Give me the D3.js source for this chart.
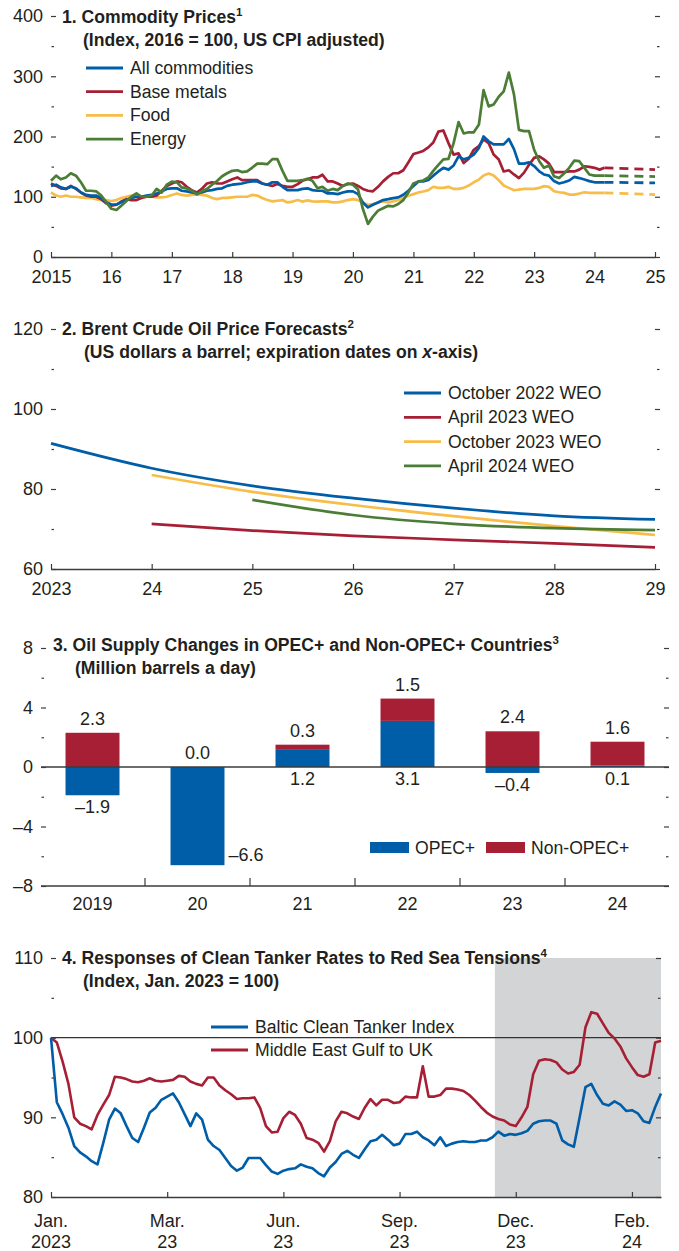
<!DOCTYPE html>
<html>
<head>
<meta charset="utf-8">
<script src="https://d3js.org/d3.v7.min.js"></script>
<style>
  body { margin: 0; background: #fff; }
  svg text { font-family: "Liberation Sans", Arial, sans-serif; fill: #231f20; }
</style>
</head>
<body>
<svg id="chart" width="679" height="1251"></svg>
<script>

// ---- Panel 1: monthly commodity price indices, Jan 2015 onwards ----
const allCommodities = [
  118, 120, 115.5, 113, 116.5, 114, 107, 103, 102, 102,
  98, 91, 87, 87, 91, 94.5, 98, 100, 100, 102,
  103, 105.5, 109, 113, 114, 114, 110, 109, 107, 105.5,
  107, 110, 111, 113, 114, 118, 120, 121, 122, 124,
  125.5, 125.5, 122, 120, 124, 124, 116.5, 111, 111, 111,
  113, 114, 111, 110, 110, 105.5, 105.5, 104.4, 107, 109,
  109, 104.4, 90.6, 82.3, 86.7, 90.6, 94.5, 96, 97.8, 99,
  103.3, 110, 118, 125.5, 125.5, 127.7, 135, 142, 148, 145,
  152, 167, 162, 164.5, 170, 181, 200, 192, 187, 187,
  187, 196, 179, 155, 155, 157, 151, 142, 137, 135,
  126, 122, 124, 127, 133, 131, 128.5, 126, 124, 124, 124
];
const baseMetals = [
  122, 118, 114, 113, 118, 113, 107, 102, 100, 100,
  96, 89, 85, 87, 92, 96, 94.5, 94.5, 98, 100,
  100, 102, 110, 118, 122, 125.5, 124, 116.5, 111, 107,
  113, 122, 124, 122, 122, 125.5, 129, 132, 127.5, 127.5,
  127.5, 127.5, 122, 120, 118, 121, 118, 116.5, 116.5, 121,
  126.5, 129, 132, 132, 136.5, 125.5, 125.5, 122, 118, 121,
  122, 118, 113, 110, 109, 116.5, 125.5, 133, 139, 139,
  144, 157, 171, 173.5, 176, 182, 190, 208, 210, 189,
  170, 172, 156, 163, 178, 184, 195, 189, 170, 162,
  142, 144, 137, 131, 140, 153, 164.5, 167, 162, 155,
  141, 141, 141, 142, 142, 145, 150.6, 149.5, 148, 145, 148
];
const food = [
  107, 102, 100, 102, 100, 100, 99, 98, 98, 96,
  94.5, 94.5, 93, 94.5, 98, 100, 102, 102, 100, 100,
  100, 99, 99, 100, 103, 105.5, 103, 102, 103, 104,
  103, 102, 98, 96, 98, 98, 99, 100, 100, 100,
  103, 102, 97.8, 94.5, 92.3, 93.4, 94.5, 90.6, 92, 94.5,
  92, 94, 92.3, 92, 92.3, 92.3, 90.6, 90.6, 92.3, 94.5,
  96.1, 94.5, 90.6, 86.7, 87.8, 90.6, 92.3, 90.6, 92.3, 94.5,
  97.8, 101.7, 104.4, 107.2, 108.8, 111, 116.6, 114.7, 114.7, 116.4,
  113, 113, 114.7, 118.6, 124, 128.5, 135.2, 138.5, 135.2, 127.4,
  118.6, 114.7, 110.8, 111.9, 113, 113, 113, 114.7, 117.5, 116.4,
  109.2, 107.5, 106.4, 103.6, 103.6, 105.3, 107.5, 106.4, 106.4, 106.4, 106.4
];
const energy = [
  126.5, 135, 129, 132, 139, 135, 124, 110, 110, 109,
  102, 91, 80, 78, 85, 93, 100, 105.5, 100, 100,
  102, 113, 107, 120, 125, 124, 115.5, 114, 110, 104,
  109, 113, 120, 126, 134, 139, 143, 144, 141, 142,
  148, 155, 155, 154, 162.5, 162.5, 143, 126.5, 126.5, 126.5,
  127.5, 130, 126.5, 114, 116.5, 110, 113, 111, 118, 122,
  120, 112, 80, 55, 67, 77, 81, 85, 84, 88,
  94.5, 107, 122, 125.5, 127, 132, 143, 153, 162, 163,
  189, 224, 205, 207, 207, 220, 277, 250, 253, 266,
  275, 306, 270, 211, 209, 209, 178, 159, 148, 152,
  134, 131, 138.5, 148, 160, 159, 148, 137, 135, 135, 135
];
// forecasts: last actual month, then Jan 2025
const forecastMonths = [110, 120];
const allForecast = [124, 123];
const metalsForecast = [148, 145];
const foodForecast = [106.4, 103.6];
const energyForecast = [135, 133.5];
const p1Names = ['All commodities', 'Base metals', 'Food', 'Energy'];

// ---- Panel 2: Brent futures by WEO vintage ----
const forecastYears = [2023, 2024, 2025, 2026, 2027, 2028, 2029];
const oct2022 = [91.4, 85.2, 80.8, 77.7, 75.2, 73.3, 72.4];
const apr2023 = [null, 71.3, 69.6, 68.3, 67.3, 66.4, 65.4];
const oct2023 = [null, 83.5, 79.3, 76.0, 73.2, 70.7, 68.5];
const apr2024 = [null, null, 77.3, 73.5, 71.3, 70.2, 69.7];
const p2Names = ['October 2022 WEO', 'April 2023 WEO', 'October 2023 WEO', 'April 2024 WEO'];

// ---- Panel 3: oil supply changes ----
const supplyYears = ['2019', '20', '21', '22', '23', '24'];
const opecPlus = [-1.9, -6.6, 1.2, 3.1, -0.4, 0.1];
const nonOpecPlus = [2.3, 0.0, 0.3, 1.5, 2.4, 1.6];

// ---- Panel 4: tanker rates, sampled at 1/20 of a tick interval ----
const balticClean = [
  100, 91.9, 90.4, 88.7, 86.4, 85.6, 85.1, 84.5, 84.1, 86.8,
  89.7, 91.1, 90.5, 88.9, 87.4, 86.9, 88.7, 90.6, 91.2, 92.2,
  92.6, 93.0, 91.9, 90.4, 88.9, 90.5, 89.7, 87.2, 86.4, 85.9,
  84.9, 83.9, 83.3, 83.7, 84.9, 84.9, 84.9, 84.0, 83.2, 82.9,
  83.3, 83.5, 83.6, 84.1, 83.8, 83.6, 83.0, 82.6, 83.7, 84.4,
  85.4, 85.8, 85.3, 84.9, 86.0, 87.0, 87.2, 87.8, 87.2, 86.5,
  86.7, 87.9, 87.9, 88.2, 87.5, 87.1, 86.5, 87.5, 86.4, 86.7,
  86.9, 87.0, 86.9, 86.9, 87.1, 87.1, 87.5, 88.2, 87.7, 87.9,
  87.8, 88.0, 88.3, 89.2, 89.5, 89.6, 89.6, 89.2, 87.1, 86.6,
  86.3, 90.0, 93.8, 94.2, 92.8, 91.7, 91.5, 92.0, 91.6, 90.8,
  90.9, 90.5, 89.5, 89.3, 91.3, 93.0
];
const gulfToUK = [
  100, 99.4, 97.0, 94.2, 90.0, 89.2, 88.9, 88.5, 90.3, 91.6,
  92.8, 95.1, 95.0, 94.8, 94.5, 94.4, 94.6, 94.9, 94.6, 94.5,
  94.6, 94.7, 95.2, 95.1, 94.5, 94.2, 94.0, 95.0, 95.0, 94.0,
  93.4, 92.9, 92.3, 92.4, 92.4, 92.5, 91.2, 88.9, 88.1, 88.2,
  89.9, 90.7, 90.3, 89.2, 87.4, 87.2, 86.8, 85.7, 87.0, 89.5,
  90.7, 90.5, 90.1, 89.8, 91.2, 92.3, 91.5, 92.2, 92.2, 91.8,
  91.9, 92.6, 92.5, 92.5, 96.4, 92.6, 92.6, 92.8, 93.6, 93.6,
  93.5, 93.3, 92.8, 92.1, 91.3, 90.6, 90.1, 89.8, 89.6, 89.1,
  88.9, 90.0, 91.3, 95.4, 97.1, 97.3, 97.2, 96.9, 96.0, 95.5,
  95.7, 96.6, 101.3, 103.2, 103.0, 101.8, 100.6, 99.9, 98.9, 97.4,
  96.3, 95.3, 95.1, 95.4, 99.4, 99.6
];
const tankerTickIdx = [0, 20, 40, 60, 80, 100];
const tankerTickLabels = [['Jan.', '2023'], ['Mar.', '23'], ['Jun.', '23'], ['Sep.', '23'], ['Dec.', '23'], ['Feb.', '24']];
const redSeaStart = 76.4;
const p4Names = ['Baltic Clean Tanker Index', 'Middle East Gulf to UK'];

// ---- styling ----
const blue = '#005da8', red = '#a61f34', yellow = '#f7bd48', green = '#4b7d36';
const axisCol = '#3c3c3c';
const labelSize = 18;
const legendSize = 17.6;
const titleSize = 17.6;

const svg = d3.select('#chart');

function title(x, y, text, sup, subX, sub, italicWord) {
  const t = svg.append('text').attr('x', x).attr('y', y)
    .attr('font-size', titleSize).attr('font-weight', 'bold').text(text);
  t.append('tspan').attr('dy', -7).attr('font-size', 11.5).text(sup);
  const s = svg.append('text').attr('x', subX).attr('y', y + 23)
    .attr('font-size', titleSize).attr('font-weight', 'bold');
  if (italicWord) {
    s.append('tspan').text(sub[0]);
    s.append('tspan').attr('font-style', 'italic').text(italicWord);
    s.append('tspan').text(sub[1]);
  } else {
    s.text(sub);
  }
}

// left/right tick marks with labels on the left
function yTicks(y, majors, minors, xl, xr, rightIn) {
  const left = svg.append('g').attr('transform', `translate(${xl},0)`)
    .call(d3.axisLeft(y).tickValues(majors).tickSize(-5).tickPadding(8)
      .tickFormat(d => d < 0 ? '\u2013' + Math.abs(d) : d));
  left.select('.domain').remove();
  left.selectAll('text').attr('font-size', labelSize).attr('font-family', null);
  const lm = svg.append('g').attr('transform', `translate(${xl + 0.5},0)`)
    .call(d3.axisLeft(y).tickValues(minors).tickSize(-2.5).tickFormat(''));
  lm.select('.domain').remove();
  const rx = rightIn ? xr - 5 : xr;
  const right = svg.append('g').attr('transform', `translate(${rx},0)`)
    .call(d3.axisRight(y).tickValues(majors).tickSize(5).tickFormat(''));
  right.select('.domain').remove();
  const rm = svg.append('g').attr('transform', `translate(${rx + 2},0)`)
    .call(d3.axisRight(y).tickValues(minors).tickSize(2.5).tickFormat(''));
  rm.select('.domain').remove();
  svg.selectAll('.tick line').attr('stroke', axisCol).attr('stroke-width', 1.2);
}

function xAxis(g) {
  g.select('.domain').attr('stroke', axisCol).attr('stroke-width', 1.5);
  g.selectAll('.tick line').attr('stroke', axisCol).attr('stroke-width', 1.2);
  g.selectAll('text').attr('font-size', labelSize).attr('font-family', null);
}

function legendLine(x, y, color, label) {
  svg.append('line').attr('x1', x).attr('x2', x + 37).attr('y1', y).attr('y2', y)
    .attr('stroke', color).attr('stroke-width', 2.8);
  svg.append('text').attr('x', x + 44).attr('y', y + 6)
    .attr('font-size', legendSize).text(label);
}

// ================= Panel 1 =================
const x1 = d3.scaleTime().domain([new Date(2015, 0, 1), new Date(2025, 0, 1)]).range([51, 655]);
const y1 = d3.scaleLinear().domain([0, 400]).range([257, 16]);

yTicks(y1, [0, 100, 200, 300, 400], [50, 150, 250, 350], 51, 655, false);

const xa1 = svg.append('g').attr('transform', 'translate(0,257)')
  .call(d3.axisBottom(x1).tickValues(d3.range(2015, 2026).map(yr => new Date(yr, 0, 1)))
    .tickSize(-5).tickSizeOuter(0).tickPadding(13)
    .tickFormat(d => d.getFullYear() === 2015 ? '2015' : String(d.getFullYear()).slice(2)));
xAxis(xa1);

title(62, 23, '1. Commodity Prices', '1', 83, '(Index, 2016 = 100, US CPI adjusted)');

const p1Series = [
  { vals: food, fc: foodForecast, color: yellow },
  { vals: baseMetals, fc: metalsForecast, color: red },
  { vals: allCommodities, fc: allForecast, color: blue },
  { vals: energy, fc: energyForecast, color: green }
];
const line1 = d3.line().x((d, i) => x1(new Date(2015, i, 1))).y(d => y1(d));
const fcLine = d3.line().x((d, i) => x1(new Date(2015, forecastMonths[i], 1))).y(d => y1(d));

p1Series.forEach(s => {
  svg.append('path').attr('d', fcLine(s.fc)).attr('fill', 'none')
    .attr('stroke', s.color).attr('stroke-width', 2.8).attr('stroke-dasharray', '9,6');
});
p1Series.forEach(s => {
  svg.append('path').attr('d', line1(s.vals)).attr('fill', 'none')
    .attr('stroke', s.color).attr('stroke-width', 2.7).attr('stroke-linejoin', 'round');
});

[blue, red, yellow, green].forEach((c, i) => legendLine(86, 68 + i * 23.7, c, p1Names[i]));

// ================= Panel 2 =================
const x2 = d3.scaleLinear().domain([2023, 2029]).range([51, 655]);
const y2 = d3.scaleLinear().domain([60, 120]).range([569, 329]);

yTicks(y2, [60, 80, 100, 120], [70, 90, 110], 51, 655, false);

const xa2 = svg.append('g').attr('transform', 'translate(0,569)')
  .call(d3.axisBottom(x2).tickValues(forecastYears).tickSize(-5).tickSizeOuter(0).tickPadding(13)
    .tickFormat(d => d === 2023 ? '2023' : String(d).slice(2)));
xAxis(xa2);

title(62, 335, '2. Brent Crude Oil Price Forecasts', '2', 84,
  ['(US dollars a barrel; expiration dates on ', '-axis)'], 'x');

const line2 = d3.line().defined(d => d != null)
  .x((d, i) => x2(forecastYears[i])).y(d => y2(d)).curve(d3.curveMonotoneX);
const p2Series = [[oct2022, blue], [apr2023, red], [oct2023, yellow], [apr2024, green]];
p2Series.forEach(([vals, c]) => {
  svg.append('path').attr('d', line2(vals)).attr('fill', 'none')
    .attr('stroke', c).attr('stroke-width', 2.7);
});
p2Series.forEach(([vals, c], i) => legendLine(404, 393 + i * 24.3, c, p2Names[i]));

// ================= Panel 3 =================
const x3 = d3.scaleBand().domain(supplyYears).range([40, 670]).paddingInner(0.486).paddingOuter(0.243);
const y3 = d3.scaleLinear().domain([-8, 8]).range([886, 648]);

yTicks(y3, [-8, -4, 0, 4, 8], [-6, -2, 2, 6], 41, 669, true);

title(53, 651, '3. Oil Supply Changes in OPEC+ and Non-OPEC+ Countries', '3', 75, '(Million barrels a day)');

const rows = supplyYears.map((yr, i) => ({ year: yr, opec: opecPlus[i], nonOpec: nonOpecPlus[i] }));
const stacked = d3.stack().keys(['opec', 'nonOpec']).offset(d3.stackOffsetDiverging)(rows);
const barColors = { opec: blue, nonOpec: red };

stacked.forEach(layer => {
  svg.append('g').selectAll('rect').data(layer).join('rect')
    .attr('x', d => x3(d.data.year))
    .attr('width', x3.bandwidth())
    .attr('y', d => y3(Math.max(d[0], d[1])))
    .attr('height', d => Math.abs(y3(d[0]) - y3(d[1])))
    .attr('fill', barColors[layer.key]);
});

// zero line
svg.append('line').attr('x1', 41).attr('x2', 669).attr('y1', y3(0)).attr('y2', y3(0))
  .attr('stroke', axisCol).attr('stroke-width', 1.5);

const fmt1 = v => (v < 0 ? '\u2013' : '') + Math.abs(v).toFixed(1);
rows.forEach((r, i) => {
  const cx = x3(r.year) + x3.bandwidth() / 2;
  const top = stacked[1][i][1];
  svg.append('text').attr('x', cx).attr('y', y3(Math.max(top, 0)) - 8)
    .attr('text-anchor', 'middle').attr('font-size', labelSize).text(fmt1(r.nonOpec));
  const low = y3(Math.min(r.opec, 0)) + 18;
  if (low > y3(-8) - 12) {
    svg.append('text').attr('x', x3(r.year) + x3.bandwidth() + 4).attr('y', y3(r.opec) - 4)
      .attr('font-size', labelSize).text(fmt1(r.opec));
  } else {
    svg.append('text').attr('x', cx).attr('y', low)
      .attr('text-anchor', 'middle').attr('font-size', labelSize).text(fmt1(r.opec));
  }
});

const xa3 = svg.append('g').attr('transform', 'translate(0,886)')
  .call(d3.axisBottom(x3).tickSize(0).tickPadding(11));
xa3.select('.domain').attr('d', 'M41,0H669');
xAxis(xa3);
const step3 = x3.step();
supplyYears.slice(1).forEach(yr => {
  const bx = x3(yr) - (step3 - x3.bandwidth()) / 2;
  svg.append('line').attr('x1', bx).attr('x2', bx).attr('y1', 886).attr('y2', 878)
    .attr('stroke', axisCol).attr('stroke-width', 1.2);
});

// legend
[['OPEC+', blue, 370], ['Non-OPEC+', red, 486]].forEach(([lab, c, lx]) => {
  svg.append('rect').attr('x', lx).attr('y', 842).attr('width', 39).attr('height', 11).attr('fill', c);
  svg.append('text').attr('x', lx + 45).attr('y', 854).attr('font-size', legendSize).text(lab);
});

// ================= Panel 4 =================
const x4 = d3.scaleLinear().domain([0, balticClean.length - 1]).range([51, 661]);
const y4 = d3.scaleLinear().domain([80, 110]).range([1197, 958]);

svg.append('rect').attr('x', x4(redSeaStart)).attr('y', y4(110))
  .attr('width', x4(balticClean.length - 1) - x4(redSeaStart))
  .attr('height', y4(80) - y4(110)).attr('fill', '#d3d4d6');

yTicks(y4, [80, 90, 100, 110], [85, 95, 105], 51, 661, true);

svg.append('line').attr('x1', 51).attr('x2', 661).attr('y1', y4(100)).attr('y2', y4(100))
  .attr('stroke', '#333').attr('stroke-width', 1.2);

const xa4 = svg.append('g').attr('transform', 'translate(0,1197)')
  .call(d3.axisBottom(x4).tickValues(tankerTickIdx).tickSize(-5).tickSizeOuter(0).tickFormat(''));
xAxis(xa4);
tankerTickIdx.forEach((t, i) => {
  const tx = svg.append('text').attr('x', x4(t)).attr('y', 1227)
    .attr('text-anchor', 'middle').attr('font-size', labelSize);
  tx.append('tspan').attr('x', x4(t)).text(tankerTickLabels[i][0]);
  tx.append('tspan').attr('x', x4(t)).attr('dy', 21).text(tankerTickLabels[i][1]);
});

title(62, 964, '4. Responses of Clean Tanker Rates to Red Sea Tensions', '4', 83, '(Index, Jan. 2023 = 100)');

const line4 = d3.line().x((d, i) => x4(i)).y(d => y4(d));
[[gulfToUK, red], [balticClean, blue]].forEach(([vals, c]) => {
  svg.append('path').attr('d', line4(vals)).attr('fill', 'none')
    .attr('stroke', c).attr('stroke-width', 2.6).attr('stroke-linejoin', 'round');
});
legendLine(211, 1027, blue, p4Names[0]);
legendLine(211, 1050, red, p4Names[1]);

</script>
</body>
</html>
